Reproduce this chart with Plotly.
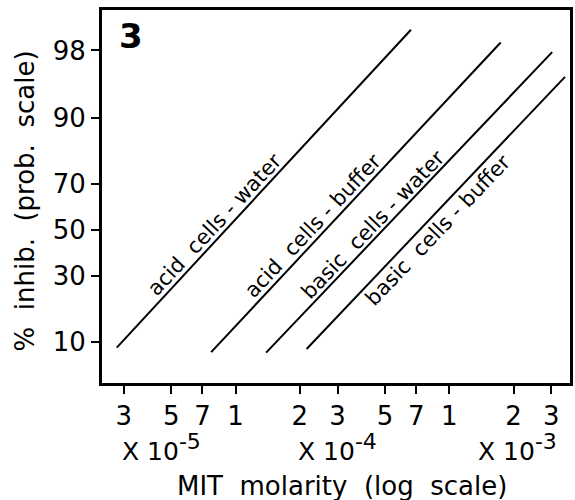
import math
import statistics
import plotly.graph_objects as go

# ---- data ----
series_names = ["acid cells - water", "acid cells - buffer",
                "basic cells - water", "basic cells - buffer"]
conc_acid_water = [2.78e-5, 6.62e-4]
inhib_acid_water = [8.9, 98.9]
conc_acid_buffer = [7.69e-5, 1.74e-3]
inhib_acid_buffer = [8.1, 98.4]
conc_basic_water = [1.39e-4, 3.03e-3]
inhib_basic_water = [8.0, 97.9]
conc_basic_buffer = [2.15e-4, 3.48e-3]
inhib_basic_buffer = [8.65, 96.0]

x_tickvals = [3e-5, 5e-5, 7e-5, 1e-4, 2e-4, 3e-4, 5e-4, 7e-4, 1e-3, 2e-3, 3e-3]
x_ticktext = ["3", "5", "7", "1", "2", "3", "5", "7", "1", "2", "3"]
y_tickvals_pct = [10, 30, 50, 70, 90, 98]
y_ticktext = ["10", "30", "50", "70", "90", "98"]

nd = statistics.NormalDist()


def probit(p):
    return nd.inv_cdf(p / 100.0)


FONT = "DejaVu Sans"
W, H = 575, 500
ML, MR, MT, MB = 102, 2, 10, 117
PW, PH = W - ML - MR, H - MT - MB
XR = [-4.625, -2.435]
YR = [-1.752, 2.516]

fig = go.Figure()

conc = [conc_acid_water, conc_acid_buffer, conc_basic_water, conc_basic_buffer]
inhib = [inhib_acid_water, inhib_acid_buffer, inhib_basic_water, inhib_basic_buffer]

for name, xs, ps in zip(series_names, conc, inhib):
    fig.add_trace(go.Scatter(x=xs, y=[probit(p) for p in ps], mode="lines",
                             line=dict(color="black", width=2), name=name,
                             showlegend=False, hoverinfo="skip"))

# label placement: fraction along line, perpendicular offset (px), side
label_style = [(0.361, 12, 1), (0.381, 12, 1), (0.400, 11, 1), (0.472, 13, -1)]
label_text = ["acid&nbsp; cells - water", "acid&nbsp; cells - buffer",
              "basic&nbsp; cells - water", "basic&nbsp; cells - buffer"]

px_per_dec = PW / (XR[1] - XR[0])
px_per_z = PH / (YR[1] - YR[0])

annotations = []
for txt, xs, ps, (t, d, side) in zip(label_text, conc, inhib, label_style):
    lx0, lx1 = math.log10(xs[0]), math.log10(xs[1])
    z0, z1 = probit(ps[0]), probit(ps[1])
    dxp = (lx1 - lx0) * px_per_dec
    dyp = (z1 - z0) * px_per_z
    ang = math.atan2(dyp, dxp)
    ax = lx0 + t * (lx1 - lx0)
    ay = z0 + t * (z1 - z0)
    xs_ = -side * d * math.sin(ang)
    ys_ = side * d * math.cos(ang)
    annotations.append(dict(x=ax, y=ay, xref="x", yref="y", text=txt,
                            showarrow=False, textangle=-math.degrees(ang),
                            xanchor="center", yanchor="middle",
                            xshift=xs_, yshift=ys_,
                            font=dict(family=FONT, size=21, color="black")))

# multiplier labels under x axis
exp_labels = [("X 10<sup><span style='font-size:22px'>-5</span></sup>", 162),
              ("X 10<sup><span style='font-size:22px'>-4</span></sup>", 339),
              ("X 10<sup><span style='font-size:22px'>-3</span></sup>", 520)]
for txt, cx in exp_labels:
    annotations.append(dict(x=(cx - ML) / PW, y=(MT + PH - 447) / PH,
                            xref="paper", yref="paper", text=txt,
                            showarrow=False, xanchor="center", yanchor="middle",
                            font=dict(family=FONT, size=25, color="black")))

# axis titles
annotations.append(dict(x=(344 - ML) / PW, y=(MT + PH - 486) / PH,
                        xref="paper", yref="paper",
                        text="MIT&nbsp; molarity&nbsp; (log&nbsp; scale)",
                        showarrow=False, xanchor="center", yanchor="middle",
                        font=dict(family=FONT, size=26, color="black")))
annotations.append(dict(x=(25 - ML) / PW, y=(MT + PH - 201) / PH,
                        xref="paper", yref="paper",
                        text="%&nbsp; inhib.&nbsp; (prob.&nbsp; scale)",
                        showarrow=False, textangle=-90,
                        xanchor="center", yanchor="middle",
                        font=dict(family=FONT, size=26, color="black")))
# panel number
annotations.append(dict(x=(131 - ML) / PW, y=(MT + PH - 36) / PH,
                        xref="paper", yref="paper", text="<b>3</b>",
                        showarrow=False, xanchor="center", yanchor="middle",
                        font=dict(family=FONT, size=34, color="black")))

fig.update_layout(
    width=W, height=H,
    margin=dict(l=ML, r=MR, t=MT, b=MB),
    paper_bgcolor="white", plot_bgcolor="white",
    annotations=annotations,
    xaxis=dict(type="log", range=XR, tickvals=x_tickvals, ticktext=x_ticktext,
               showgrid=False, zeroline=False, showline=True, mirror=True,
               linecolor="black", linewidth=3, ticks="outside", ticklen=8,
               tickwidth=2, tickcolor="black",
               tickfont=dict(family=FONT, size=26, color="black")),
    yaxis=dict(range=YR, tickvals=[probit(p) for p in y_tickvals_pct],
               ticktext=y_ticktext,
               showgrid=False, zeroline=False, showline=True, mirror=True,
               linecolor="black", linewidth=3, ticks="outside", ticklen=8,
               tickwidth=2, tickcolor="black",
               tickfont=dict(family=FONT, size=26, color="black")),
)

fig.write_html("out.html",
               config={"displayModeBar": False},
               post_script="document.body.style.margin='0';"
                           "document.body.style.overflow='hidden';")
